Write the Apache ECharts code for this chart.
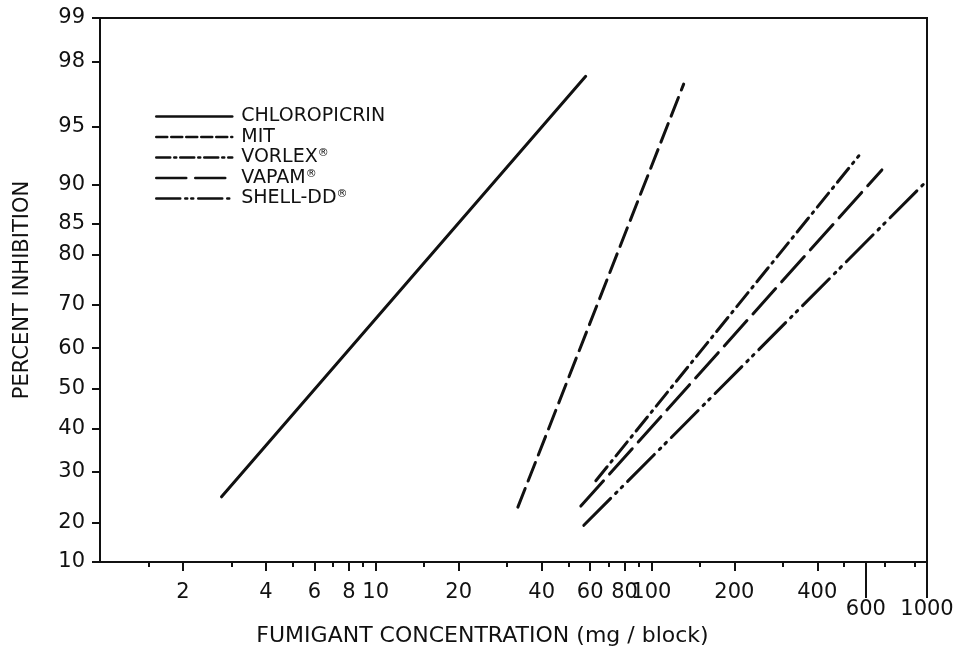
<!DOCTYPE html>
<html>
<head>
<meta charset="utf-8">
<script src="https://cdn.jsdelivr.net/npm/echarts@6/dist/echarts.min.js"></script>
<style>html,body{margin:0;padding:0;background:#fff}#c{width:965px;height:652px}</style>
</head>
<body>
<div id="c"></div>
<script>
// ---- data ----
const seriesNames = ['CHLOROPICRIN', 'MIT', 'VORLEX', 'VAPAM', 'SHELL-DD'];
const chloropicrinConc = [2.76, 57.8];
const chloropicrinPct  = [24.8, 97.5];
const mitConc = [32.8, 131];
const mitPct  = [22.8, 97.2];
const vorlexConc = [62.9, 566];
const vorlexPct  = [28.1, 92.8];
const vapamConc = [55.5, 686];
const vapamPct  = [23.0, 91.5];
const shellConc = [56.9, 1000];
const shellPct  = [19.5, 90.4];

const xMajorTicks = [2, 4, 6, 8, 10, 20, 40, 60, 80, 100, 200, 400, 600, 800, 1000];
const xMinorTicks = [1.5, 3, 5, 7, 9, 15, 30, 50, 70, 90, 150, 300, 500, 700, 900];
const xLowRowTicks = [600, 1000];
const yTickLabels = [10, 20, 30, 40, 50, 60, 70, 80, 85, 90, 95, 98, 99];

// ---- probit (inverse normal CDF, Acklam) ----
function probit(p) {
  const a = [-3.969683028665376e+01, 2.209460984245205e+02, -2.759285104469687e+02, 1.383577518672690e+02, -3.066479806614716e+01, 2.506628277459239e+00];
  const b = [-5.447609879822406e+01, 1.615858368580409e+02, -1.556989798598866e+02, 6.680131188771972e+01, -1.328068155288572e+01];
  const c = [-7.784894002430293e-03, -3.223964580411365e-01, -2.400758277161838e+00, -2.549732539343734e+00, 4.374664141464968e+00, 2.938163982698783e+00];
  const d = [7.784695709041462e-03, 3.224671290700398e-01, 2.445134137142996e+00, 3.754408661907416e+00];
  const pl = 0.02425, ph = 1 - pl;
  let q, r;
  if (p < pl) {
    q = Math.sqrt(-2 * Math.log(p));
    return (((((c[0]*q+c[1])*q+c[2])*q+c[3])*q+c[4])*q+c[5]) / ((((d[0]*q+d[1])*q+d[2])*q+d[3])*q+1);
  } else if (p <= ph) {
    q = p - 0.5; r = q * q;
    return (((((a[0]*r+a[1])*r+a[2])*r+a[3])*r+a[4])*r+a[5])*q / (((((b[0]*r+b[1])*r+b[2])*r+b[3])*r+b[4])*r+1);
  } else {
    q = Math.sqrt(-2 * Math.log(1 - p));
    return -(((((c[0]*q+c[1])*q+c[2])*q+c[3])*q+c[4])*q+c[5]) / ((((d[0]*q+d[1])*q+d[2])*q+d[3])*q+1);
  }
}
// The original paper puts its "10" label at the bottom edge of the plot
const Y_BOTTOM = -1.09;
function yPos(p) { return p <= 10 ? Y_BOTTOM : probit(p / 100); }
function xPos(c) { return Math.log10(c); }
function pts(conc, pct) { return conc.map((c, i) => [xPos(c), yPos(pct[i])]); }

const FONT = 'DejaVu Sans';
const chart = echarts.init(document.getElementById('c'), null, { renderer: 'canvas' });

const plotStyles = [
  { type: 'solid' },
  { type: [20, 8] },
  { type: [18, 6, 2, 6] },
  { type: [34, 9] },
  { type: [38, 7, 2, 6, 2, 7] }
];
const legendStyles = [
  { type: 'solid' },
  { type: [11, 4] },
  { type: [14, 4, 2, 4] },
  { type: [30, 9] },
  { type: [24, 5, 2, 4, 2, 5] }
];
const allData = [
  pts(chloropicrinConc, chloropicrinPct),
  pts(mitConc, mitPct),
  pts(vorlexConc, vorlexPct),
  pts(vapamConc, vapamPct),
  pts(shellConc, shellPct)
];
const labelled = { 'VORLEX': 'VORLEX{s|®}', 'VAPAM': 'VAPAM{s|®}', 'SHELL-DD': 'SHELL-DD{s|®}' };

const xMin = xPos(1), xMax = xPos(1000);
const baseX = {
  type: 'value', min: xMin, max: xMax, position: 'bottom',
  splitLine: { show: false }
};
const fmtX = v => String(Math.round(Math.pow(10, v)));

chart.setOption({
  animation: false,
  backgroundColor: '#fff',
  color: ['#111'],
  textStyle: { fontFamily: FONT, color: '#111' },
  grid: { left: 100, right: 38, top: 18, bottom: 89, show: true, borderColor: '#111', borderWidth: 2, backgroundColor: 'transparent' },
  legend: {
    show: true,
    orient: 'vertical', left: 150, top: 102,
    itemWidth: 76, itemHeight: 14, itemGap: 1.5,
    textStyle: {
      fontFamily: FONT, fontSize: 19, color: '#111', lineHeight: 18, padding: [0, 0, 0, 4],
      rich: { s: { fontFamily: FONT, fontSize: 11, color: '#111', lineHeight: 18, padding: [0, 0, 8, 0] } }
    },
    formatter: n => labelled[n] || n,
    data: seriesNames.map((n, i) => ({
      name: n,
      itemStyle: { opacity: 0, borderWidth: 0 },
      lineStyle: Object.assign({ width: 2.5, color: '#111' }, legendStyles[i])
    }))
  },
  xAxis: [
    Object.assign({}, baseX, {
      name: 'FUMIGANT CONCENTRATION (mg / block)', nameLocation: 'middle', nameGap: 63,
      nameTextStyle: { fontFamily: FONT, fontSize: 22, color: '#111', padding: [0, 62, 0, 0] },
      axisLine: { show: true, onZero: false, lineStyle: { color: '#111', width: 2 } },
      axisTick: { show: true, length: 9, customValues: xMajorTicks.map(xPos), lineStyle: { color: '#111', width: 2 } },
      axisLabel: {
        show: true, customValues: xMajorTicks.map(xPos), margin: 22,
        showMinLabel: true, showMaxLabel: true, hideOverlap: false,
        fontFamily: FONT, fontSize: 21, color: '#111', lineHeight: 17,
        formatter: v => { const t = fmtX(v); return xLowRowTicks.indexOf(+t) >= 0 ? '\n' + t : t; }
      }
    }),
    Object.assign({}, baseX, {
      axisLine: { show: false, onZero: false },
      axisTick: { show: true, length: 5, customValues: xMinorTicks.map(xPos), lineStyle: { color: '#111', width: 2 } },
      axisLabel: { show: false }
    }),
    Object.assign({}, baseX, {
      axisLine: { show: false, onZero: false },
      axisTick: { show: true, length: 36, customValues: xLowRowTicks.map(xPos), lineStyle: { color: '#111', width: 2 } },
      axisLabel: { show: false }
    })
  ],
  yAxis: {
    type: 'value', min: Y_BOTTOM, max: yPos(99),
    name: 'PERCENT INHIBITION', nameLocation: 'middle', nameGap: 67,
    nameTextStyle: { fontFamily: FONT, fontSize: 21, color: '#111' },
    splitLine: { show: false },
    axisLine: { show: true, onZero: false, lineStyle: { color: '#111', width: 2 } },
    axisTick: { show: true, length: 8, customValues: yTickLabels.map(yPos), lineStyle: { color: '#111', width: 2 } },
    axisLabel: {
      show: true, customValues: yTickLabels.map(yPos), margin: 15,
      showMinLabel: true, showMaxLabel: true,
      fontFamily: FONT, fontSize: 21, color: '#111',
      formatter: v => { const t = yTickLabels.find(p => Math.abs(yPos(p) - v) < 1e-6); return t === undefined ? '' : String(t); }
    }
  },
  series: seriesNames.map((n, i) => ({
    name: n, type: 'line', xAxisIndex: 0, symbol: 'none', showSymbol: false,
    itemStyle: { color: '#111' },
    data: allData[i],
    lineStyle: Object.assign({ width: 3, color: '#111', cap: 'round' }, plotStyles[i])
  }))
});
</script>
</body>
</html>
